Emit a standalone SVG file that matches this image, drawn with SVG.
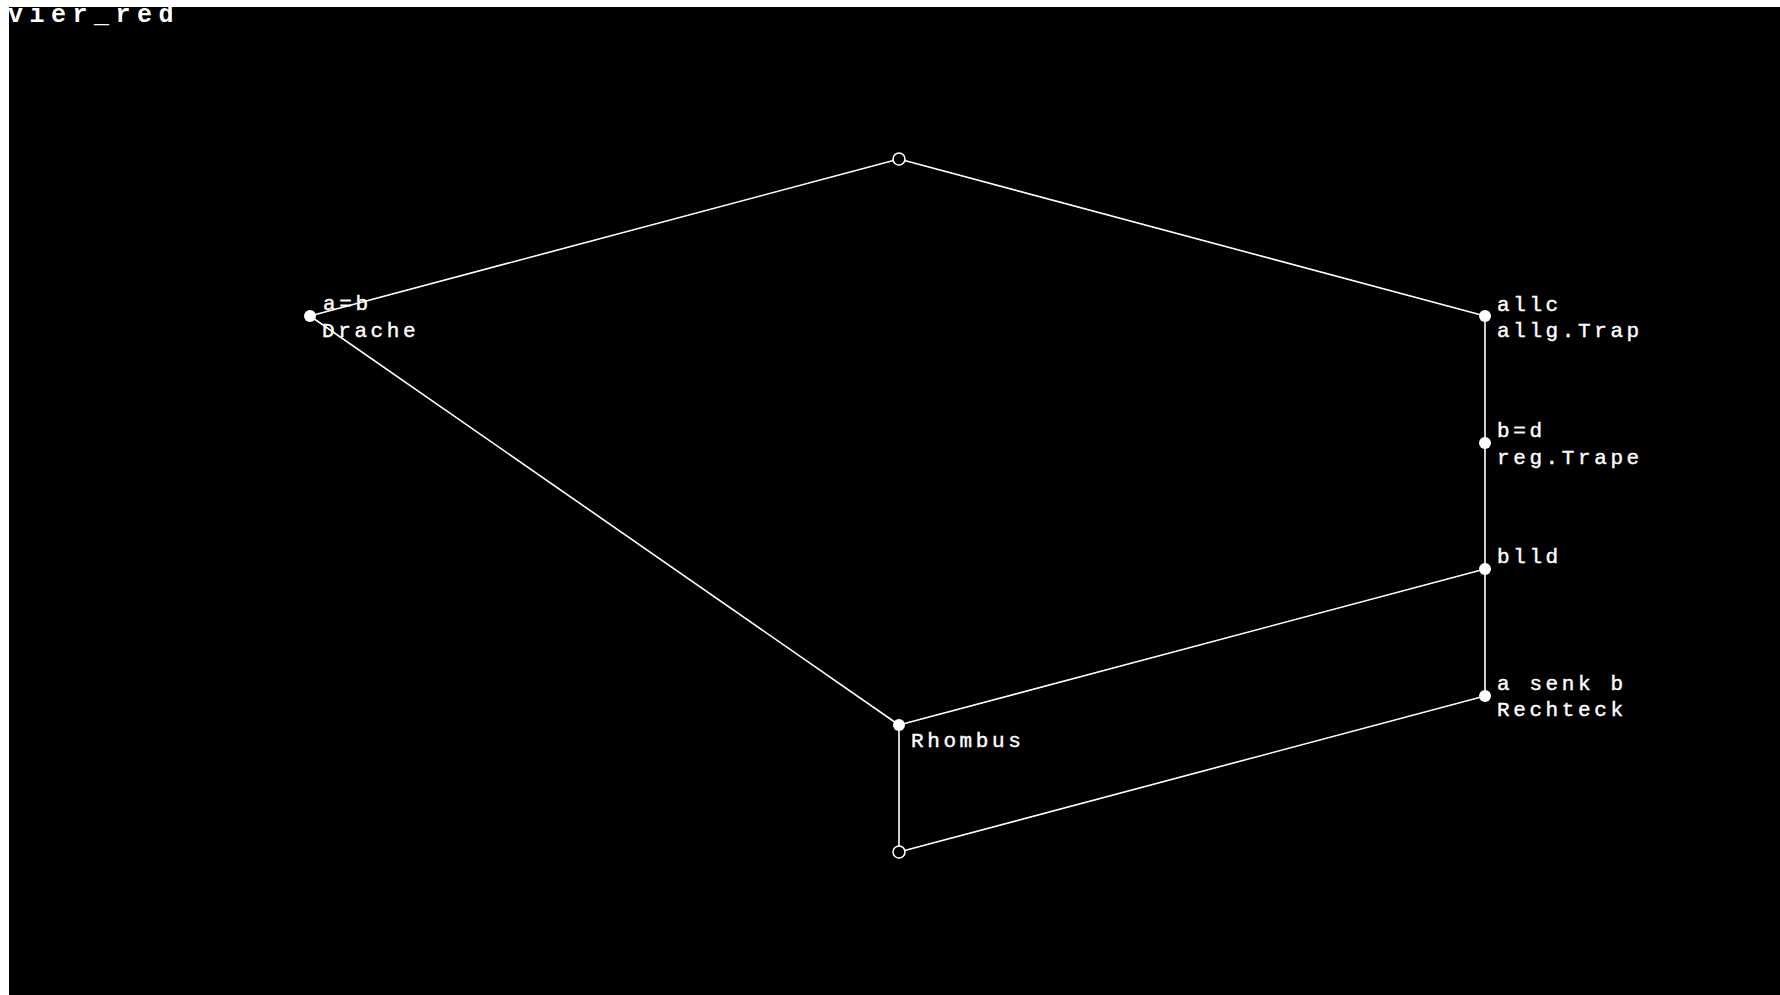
<svg xmlns="http://www.w3.org/2000/svg" width="1780" height="995" viewBox="0 0 1780 995">
<style>
.edge{stroke:#fff;stroke-width:1.6;fill:none}
.dot{fill:#fff}
.open{fill:#000;stroke:#fff;stroke-width:1.6}
.lbl{font-family:"Liberation Mono","DejaVu Sans Mono",monospace;font-size:21px;fill:#fff;letter-spacing:3.6px;stroke:#fff;stroke-width:0.4}
.title{font-family:"Liberation Mono","DejaVu Sans Mono",monospace;font-size:25px;font-weight:bold;fill:#fff;letter-spacing:6.5px}
</style>
<rect x="0" y="0" width="1780" height="995" fill="#fff"/>
<rect x="9" y="7" width="1771" height="988" fill="#000"/>
<text class="title" x="8" y="22">vier_red</text>
<g id="connectors">
<line class="edge" x1="899" y1="159" x2="310" y2="316"/>
<line class="edge" x1="899" y1="159" x2="1485" y2="316"/>
<line class="edge" x1="310" y1="316" x2="899" y2="725"/>
<line class="edge" x1="1485" y1="316" x2="1485" y2="443"/>
<line class="edge" x1="1485" y1="443" x2="1485" y2="569"/>
<line class="edge" x1="1485" y1="569" x2="1485" y2="696"/>
<line class="edge" x1="1485" y1="569" x2="899" y2="725"/>
<line class="edge" x1="1485" y1="696" x2="899" y2="852"/>
<line class="edge" x1="899" y1="725" x2="899" y2="852"/>
</g>
<g id="top"><circle class="open" cx="899" cy="159" r="6"/></g>
<g id="drache"><circle class="dot" cx="310" cy="316" r="6"/><text class="lbl" x="323" y="310">a=b</text><text class="lbl" x="322" y="337">Drache</text></g>
<g id="allc"><circle class="dot" cx="1485" cy="316" r="6"/><text class="lbl" x="1497" y="311">allc</text><text class="lbl" x="1497" y="337">allg.Trap</text></g>
<g id="bd"><circle class="dot" cx="1485" cy="443" r="6"/><text class="lbl" x="1497" y="437">b=d</text><text class="lbl" x="1497" y="464">reg.Trape</text></g>
<g id="blld"><circle class="dot" cx="1485" cy="569" r="6"/><text class="lbl" x="1497" y="563">blld</text></g>
<g id="rechteck"><circle class="dot" cx="1485" cy="696" r="6"/><text class="lbl" x="1497" y="690">a senk b</text><text class="lbl" x="1497" y="716">Rechteck</text></g>
<g id="rhombus"><circle class="dot" cx="899" cy="725" r="6"/><text class="lbl" x="911" y="747">Rhombus</text></g>
<g id="bottom"><circle class="open" cx="899" cy="852" r="6"/></g>
</svg>
